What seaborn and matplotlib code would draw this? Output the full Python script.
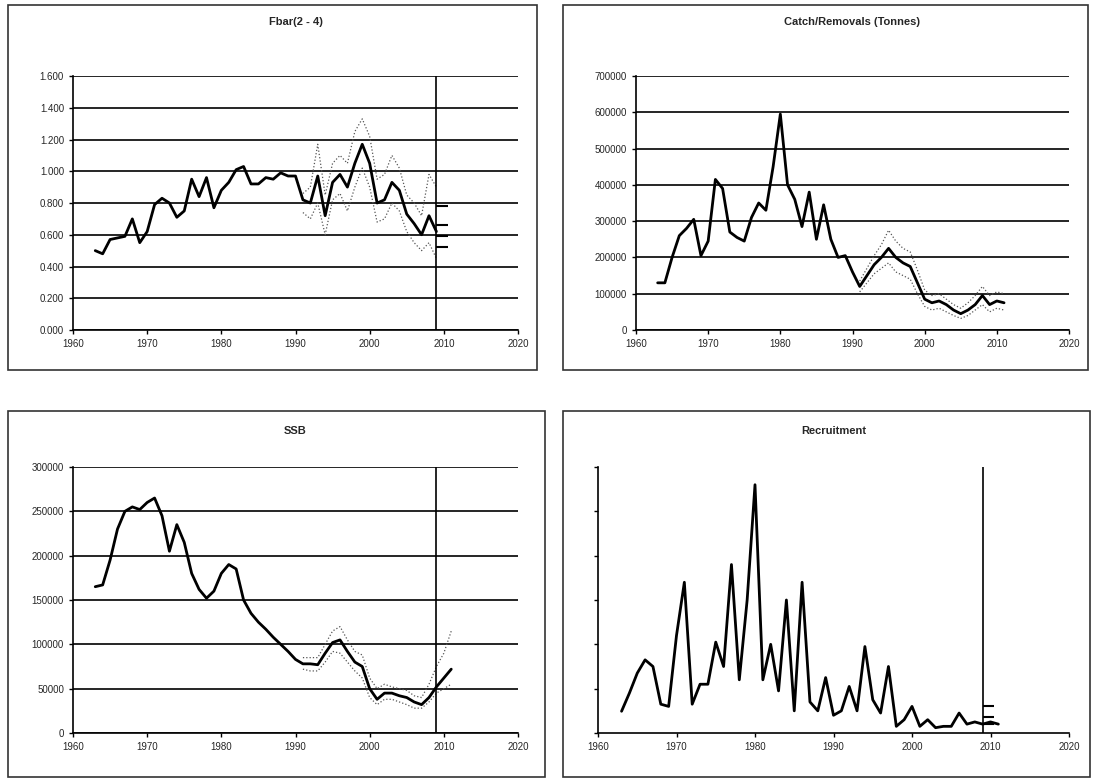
import numpy as np
import matplotlib.pyplot as plt
import seaborn as sns
from matplotlib.patches import Rectangle

years = list(range(1963, 2012))
fbar_years = list(range(1963, 2010))
fbar = [0.50, 0.48, 0.57, 0.58, 0.59, 0.70, 0.55, 0.62, 0.79, 0.83, 0.80, 0.71, 0.75, 0.95, 0.84,
        0.96, 0.77, 0.88, 0.93, 1.01, 1.03, 0.92, 0.92, 0.96, 0.95, 0.99, 0.97, 0.97, 0.82, 0.80,
        0.97, 0.72, 0.93, 0.98, 0.90, 1.05, 1.17, 1.05, 0.80, 0.82, 0.93, 0.88, 0.73, 0.67, 0.60,
        0.72, 0.62]
band_years = list(range(1991, 2010))
fbar_hi = [0.86, 0.90, 1.17, 0.85, 1.05, 1.10, 1.05, 1.25, 1.33, 1.22, 0.95, 0.98, 1.10, 1.02, 0.85, 0.80, 0.72, 0.98, 0.90]
fbar_lo = [0.74, 0.70, 0.80, 0.60, 0.82, 0.86, 0.75, 0.90, 1.02, 0.90, 0.68, 0.70, 0.80, 0.75, 0.62, 0.55, 0.50, 0.55, 0.45]
fbar_proj = [0.78, 0.66, 0.59, 0.52]

catch = [130, 130, 200, 260, 280, 305, 205, 245, 415, 390, 270, 255, 245, 310, 350, 330, 450, 595,
         400, 360, 285, 380, 250, 345, 250, 200, 205, 160, 120, 150, 180, 200, 225, 200, 185, 175,
         130, 85, 75, 80, 70, 55, 45, 55, 70, 95, 70, 80, 75]
catch_years_b = list(range(1991, 2012))
catch_hi = [135, 170, 205, 235, 275, 245, 225, 215, 165, 110, 95, 100, 85, 70, 60, 75, 95, 120, 95, 105, 100]
catch_lo = [105, 130, 155, 170, 185, 160, 150, 140, 100, 65, 55, 60, 50, 40, 32, 40, 55, 70, 50, 60, 55]

ssb = [165, 167, 195, 230, 250, 255, 252, 260, 265, 245, 205, 235, 215, 180, 162, 152, 160, 180,
       190, 185, 150, 135, 125, 117, 108, 100, 92, 83, 78, 78, 77, 90, 102, 105, 92, 80, 75, 50,
       38, 45, 45, 42, 40, 35, 32, 40, 52, 62, 72]
ssb_years_b = list(range(1991, 2012))
ssb_hi = [85, 85, 85, 100, 115, 120, 105, 92, 88, 62, 50, 55, 52, 50, 48, 42, 40, 55, 75, 90, 115]
ssb_lo = [72, 70, 70, 80, 92, 90, 80, 70, 62, 40, 32, 38, 38, 35, 32, 28, 28, 35, 45, 50, 55]

recruit = [0.49, 0.90, 1.35, 1.65, 1.50, 0.65, 0.60, 2.20, 3.40, 0.65, 1.10, 1.10, 2.05, 1.50,
           3.80, 1.20, 3.00, 5.60, 1.20, 2.00, 0.95, 3.00, 0.50, 3.40, 0.70, 0.50, 1.25, 0.40,
           0.50, 1.05, 0.50, 1.95, 0.75, 0.45, 1.50, 0.15, 0.30, 0.60, 0.15, 0.30, 0.12, 0.15,
           0.15, 0.45, 0.20, 0.25, 0.20, 0.25, 0.20]
recruit_proj = [0.60, 0.35, 0.20]

sns.set_style("white")
plt.rcParams['font.family'] = ['Liberation Sans', 'DejaVu Sans']
fig = plt.figure(figsize=(10.94, 7.8), dpi=100)
W, H = 1094, 780

def box(x0, y0, x1, y1):
    fig.patches.append(Rectangle((x0 / W, 1 - y1 / H), (x1 - x0) / W, (y1 - y0) / H,
                                 transform=fig.transFigure, fill=False, edgecolor='#333333', lw=1.2))

def make_ax(x0, y0, x1, y1):
    return fig.add_axes([x0 / W, 1 - y1 / H, (x1 - x0) / W, (y1 - y0) / H])

box(8, 5, 537, 370)
box(563, 5, 1088, 370)
box(8, 411, 545, 777)
box(563, 411, 1090, 777)

panels = [
    (make_ax(73, 76, 518, 330), "Fbar(2 - 4)", 37),
    (make_ax(636, 76, 1069, 330), "Catch/Removals (Tonnes)", 37),
    (make_ax(73, 467, 518, 733), "SSB", 24),
    (make_ax(598, 467, 1069, 733), "Recruitment", 24),
]

for ax, title, pad in panels:
    ax.set_xlim(1960, 2020)
    ax.set_xticks(range(1960, 2021, 10))
    for s in ['top', 'right']:
        ax.spines[s].set_visible(False)
    for s in ['left', 'bottom']:
        ax.spines[s].set_color('black')
        ax.spines[s].set_linewidth(1.2)
    ax.tick_params(direction='out', length=3, width=1, labelsize=7, color='black', left=True, bottom=True)
    ax.set_title(title, fontsize=8, fontweight='bold', pad=pad)

dot = dict(color='#555555', ls=':', lw=0.9)

# Fbar
ax = panels[0][0]
ax.set_ylim(0, 1.6)
ax.set_yticks(np.arange(0, 1.61, 0.2))
ax.set_yticklabels([f"{v:.3f}" for v in np.arange(0, 1.61, 0.2)])
ax.yaxis.grid(True, color='black', lw=1.2)
sns.lineplot(x=band_years, y=fbar_hi, ax=ax, **dot)
sns.lineplot(x=band_years, y=fbar_lo, ax=ax, **dot)
sns.lineplot(x=fbar_years, y=fbar, ax=ax, color='black', lw=2)
ax.axvline(2009, color='black', lw=1.2)
ax.hlines(fbar_proj, 2009, 2010.5, colors='black', lw=1.5)

# Catch
ax = panels[1][0]
ax.set_ylim(0, 700000)
ax.set_yticks(range(0, 700001, 100000))
ax.yaxis.grid(True, color='black', lw=1.2)
sns.lineplot(x=catch_years_b, y=[v * 1000 for v in catch_hi], ax=ax, **dot)
sns.lineplot(x=catch_years_b, y=[v * 1000 for v in catch_lo], ax=ax, **dot)
sns.lineplot(x=years, y=[v * 1000 for v in catch], ax=ax, color='black', lw=2)

# SSB
ax = panels[2][0]
ax.set_ylim(0, 300000)
ax.set_yticks(range(0, 300001, 50000))
ax.yaxis.grid(True, color='black', lw=1.2)
sns.lineplot(x=ssb_years_b, y=[v * 1000 for v in ssb_hi], ax=ax, **dot)
sns.lineplot(x=ssb_years_b, y=[v * 1000 for v in ssb_lo], ax=ax, **dot)
sns.lineplot(x=years, y=[v * 1000 for v in ssb], ax=ax, color='black', lw=2)
ax.axvline(2009, color='black', lw=1.2)

# Recruitment
ax = panels[3][0]
ax.set_ylim(0, 6)
ax.set_yticks(range(0, 7))
ax.set_yticklabels([])
sns.lineplot(x=years, y=recruit, ax=ax, color='black', lw=2)
ax.axvline(2009, color='black', lw=1.2)
ax.hlines(recruit_proj, 2009, 2010.5, colors='black', lw=1.5)

fig.savefig("out.png", dpi=100)
